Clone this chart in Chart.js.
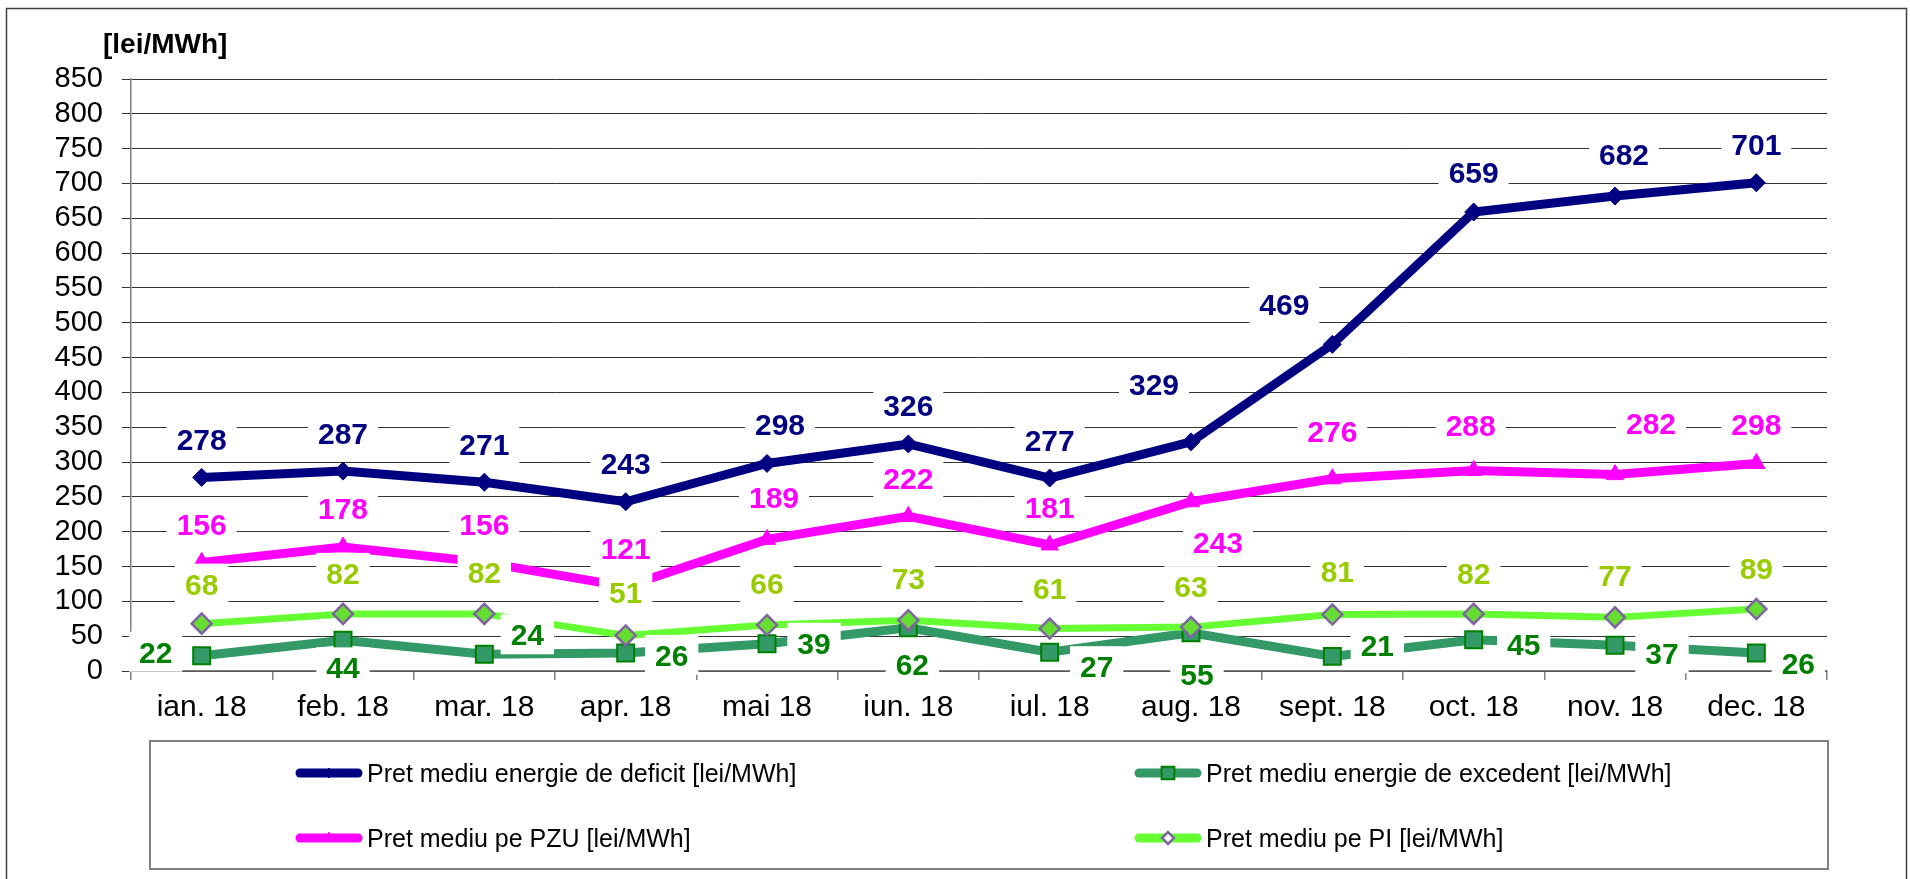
<!DOCTYPE html>
<html lang="ro">
<head>
<meta charset="utf-8">
<title>Preturi medii energie 2018</title>
<script src="https://cdn.jsdelivr.net/npm/chart.js@4.4.1/dist/chart.umd.min.js"></script>
<style>
  html, body { margin: 0; padding: 0; background: #fff; }
  #cadru { width: 1910px; height: 879px; position: relative; }
</style>
</head>
<body>
<div id="cadru"><canvas id="graficPreturi"></canvas></div>
<script>
// Date
const luni = ['ian. 18', 'feb. 18', 'mar. 18', 'apr. 18', 'mai 18', 'iun. 18',
              'iul. 18', 'aug. 18', 'sept. 18', 'oct. 18', 'nov. 18', 'dec. 18'];
const pretDeficit  = [278, 287, 271, 243, 298, 326, 277, 329, 469, 659, 682, 701];
const pretExcedent = [22, 44, 24, 26, 39, 62, 27, 55, 21, 45, 37, 26];
const pretPZU      = [156, 178, 156, 121, 189, 222, 181, 243, 276, 288, 282, 298];
const pretPI       = [68, 82, 82, 51, 66, 73, 61, 63, 81, 82, 77, 89];

const numeSerii = [
    'Pret mediu energie de deficit [lei/MWh]',
    'Pret mediu energie de excedent [lei/MWh]',
    'Pret mediu pe PZU [lei/MWh]',
    'Pret mediu pe PI [lei/MWh]'
];
const axaYMin = 0, axaYMax = 850, axaYPas = 50;

// Decalajul etichetelor fata de punct (px), cum sunt asezate in original
const decalajDeficit  = [[0,-38],[0,-38],[0,-38],[0,-39],[13,-39],[0,-39],[0,-38],[-37,-58],[-48,-40],[0,-40],[9,-42],[0,-39]];
const decalajExcedent = [[-46,-4],[0,27],[43,-20],[46,2],[47,-1],[4,36],[47,14],[6,41],[45,-11],[50,4],[47,8],[42,10]];
const decalajPZU      = [[0,-38],[0,-39],[0,-38],[0,-39],[7,-42],[0,-38],[0,-38],[27,40],[0,-48],[-3,-45],[36,-52],[0,-39]];
const decalajPI       = [[0,-40],[0,-41],[0,-42],[0,-43],[0,-42],[0,-42],[0,-41],[0,-41],[5,-44],[0,-41],[0,-42],[0,-41]];

const FONT = '"Liberation Sans", Arial, sans-serif';

// Etichetele valorilor, cu fundal alb peste linii si axe
const pluginEtichete = {
    id: 'etichete',
    afterDatasetsDraw(chart) {
        const ctx = chart.ctx;
        ctx.save();
        ctx.font = 'bold 30px ' + FONT;
        ctx.textAlign = 'center';
        ctx.textBaseline = 'alphabetic';
        chart.data.datasets.forEach((ds, di) => {
            const meta = chart.getDatasetMeta(di);
            meta.data.forEach((pt, i) => {
                const [dx, dy] = ds.decalaj[i];
                const x = pt.x + dx, y = pt.y + dy;
                const txt = String(ds.data[i]);
                const w = ctx.measureText(txt).width + 20;
                ctx.fillStyle = '#ffffff';
                ctx.fillRect(x - w / 2, y - 20, w, 40);
                ctx.fillStyle = ds.culoareEticheta;
                ctx.fillText(txt, x, y + 11);
            });
        });
        ctx.restore();
    }
};

// Titlul axei, legenda si chenarul exterior
const pluginCadru = {
    id: 'cadru',
    afterDraw(chart) {
        const ctx = chart.ctx;
        ctx.save();
        ctx.strokeStyle = '#404040';
        ctx.lineWidth = 1.5;
        ctx.strokeRect(6.5, 8.5, 1900, 880);

        ctx.fillStyle = '#000';
        ctx.font = 'bold 28px ' + FONT;
        ctx.textAlign = 'left';
        ctx.textBaseline = 'alphabetic';
        ctx.fillText('[lei/MWh]', 103, 53);

        // chenarul legendei
        ctx.strokeStyle = '#808080';
        ctx.lineWidth = 2;
        ctx.strokeRect(150, 741, 1678, 128);

        const pozitii = [[296, 773], [1135, 773], [296, 838], [1135, 838]];
        chart.data.datasets.forEach((ds, i) => {
            const [x0, y0] = pozitii[i];
            ctx.strokeStyle = ds.borderColor;
            ctx.lineWidth = 9;
            ctx.lineCap = 'round';
            ctx.beginPath();
            ctx.moveTo(x0 + 4, y0);
            ctx.lineTo(x0 + 62, y0);
            ctx.stroke();
            ctx.lineCap = 'butt';

            ctx.fillStyle = ds.fillLegenda;
            ctx.strokeStyle = ds.pointBorderColor;
            ctx.lineWidth = ds.pointBorderWidth;
            Chart.helpers.drawPoint(ctx, {
                pointStyle: ds.pointStyle,
                radius: ds.razaLegenda,
                borderWidth: ds.pointBorderWidth
            }, x0 + 33, y0);

            ctx.fillStyle = '#000';
            ctx.font = '25px ' + FONT;
            ctx.fillText(numeSerii[i], x0 + 71, y0 + 9);
        });
        ctx.restore();
    }
};

window.addEventListener('DOMContentLoaded', () => {
    const ctx = document.getElementById('graficPreturi').getContext('2d');

    new Chart(ctx, {
        type: 'line',
        data: {
            labels: luni,
            datasets: [
                {
                    label: numeSerii[0], data: pretDeficit, order: 4,
                    borderColor: '#000080', borderWidth: 9,
                    pointStyle: 'rectRot', pointRadius: 9, pointBackgroundColor: '#000080',
                    pointBorderColor: '#000080', pointBorderWidth: 1,
                    decalaj: decalajDeficit, culoareEticheta: '#000080',
                    razaLegenda: 5, fillLegenda: '#000080'
                },
                {
                    label: numeSerii[1], data: pretExcedent, order: 3,
                    borderColor: '#339966', borderWidth: 9,
                    pointStyle: 'rect', pointRadius: 12, pointBackgroundColor: '#339966',
                    pointBorderColor: '#008000', pointBorderWidth: 2,
                    decalaj: decalajExcedent, culoareEticheta: '#008000',
                    razaLegenda: 9, fillLegenda: '#339966'
                },
                {
                    label: numeSerii[2], data: pretPZU, order: 2,
                    borderColor: '#ff00ff', borderWidth: 9,
                    pointStyle: 'triangle', pointRadius: 10, pointBackgroundColor: '#ff00ff',
                    pointBorderColor: '#ff00ff', pointBorderWidth: 1,
                    decalaj: decalajPZU, culoareEticheta: '#ff00ff',
                    razaLegenda: 6, fillLegenda: '#ff00ff'
                },
                {
                    label: numeSerii[3], data: pretPI, order: 1,
                    borderColor: '#66ff33', borderWidth: 7,
                    pointStyle: 'rectRot', pointRadius: 10, pointBackgroundColor: '#66dd33',
                    pointBorderColor: '#8064a2', pointBorderWidth: 2.5,
                    decalaj: decalajPI, culoareEticheta: '#99cc00',
                    razaLegenda: 6, fillLegenda: '#ffffff'
                }
            ]
        },
        options: {
            responsive: true,
            maintainAspectRatio: false,
            animation: false,
            events: [],
            elements: { line: { tension: 0, borderJoinStyle: 'miter' } },
            layout: { padding: { left: 0, top: 79, right: 83, bottom: 148 } },
            scales: {
                x: {
                    offset: true,
                    grid: { display: true, drawOnChartArea: false, drawTicks: true, tickLength: 9,
                            offset: true, color: '#808080', lineWidth: 1.5 },
                    border: { display: true, color: '#808080', width: 1.5 },
                    ticks: { color: '#000', font: { family: FONT, size: 30 }, padding: 10,
                             maxRotation: 0, autoSkip: false },
                    afterFit: (scale) => { scale.height = 60; }
                },
                y: {
                    min: axaYMin, max: axaYMax,
                    grid: { color: '#333', lineWidth: 1, tickLength: 9, drawTicks: true },
                    border: { display: true, color: '#808080', width: 1.5 },
                    ticks: { stepSize: axaYPas, color: '#000', font: { family: FONT, size: 29 },
                             padding: 19, autoSkip: false },
                    afterFit: (scale) => { scale.width = 131; }
                }
            },
            plugins: { legend: { display: false }, tooltip: { enabled: false } }
        },
        plugins: [pluginEtichete, pluginCadru]
    });
});
</script>
</body>
</html>
